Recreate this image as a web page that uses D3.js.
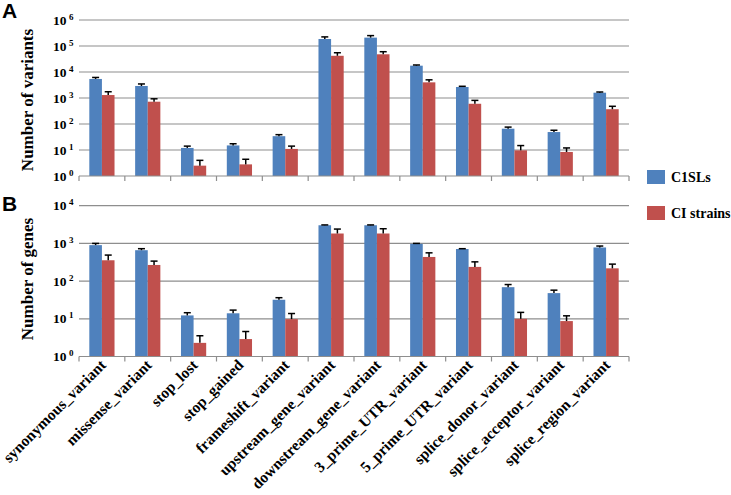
<!DOCTYPE html>
<html>
<head>
<meta charset="utf-8">
<script src="https://cdn.jsdelivr.net/npm/d3@7"></script>
<style>
  html, body { margin: 0; padding: 0; background: #fff; }
  svg { display: block; }
  text { font-family: "Liberation Serif", "Times New Roman", serif; font-weight: bold; fill: #000; }
  text.letter { font-family: "Liberation Sans", Arial, sans-serif; }
</style>
</head>
<body>
<svg id="chart" width="731" height="495"></svg>
<script>
const categories = [
  "synonymous_variant", "missense_variant", "stop_lost", "stop_gained",
  "frameshift_variant", "upstream_gene_variant", "downstream_gene_variant",
  "3_prime_UTR_variant", "5_prime_UTR_variant", "splice_donor_variant",
  "splice_acceptor_variant", "splice_region_variant"
];
const seriesNames = ["C1SLs", "CI strains"];

// Panel A: number of variants (mean, + error)
const variantsC1SL = [5400, 2900, 12, 15, 34, 186000, 210000, 17500, 2650, 66, 49, 1600];
const variantsC1SLErr = [770, 570, 2.1, 2.4, 4.9, 38000, 41000, 1100, 170, 10, 8.5, 100];
const variantsCI = [1300, 720, 2.5, 2.8, 11, 42000, 48000, 4000, 600, 9.7, 8.4, 370];
const variantsCIErr = [440, 210, 1.5, 1.6, 3.1, 13000, 12300, 1000, 210, 5.1, 3.6, 110];

// Panel B: number of genes
const genesC1SL = [900, 660, 12.3, 14, 32, 3030, 3030, 970, 710, 69, 48, 780];
const genesC1SLErr = [100, 64, 2.2, 3, 4.3, 60, 60, 30, 14, 12, 9.5, 71];
const genesCI = [357, 268, 2.3, 2.9, 9.8, 1830, 1830, 437, 238, 10, 8.7, 218];
const genesCIErr = [133, 71, 1.25, 1.7, 4, 570, 620, 125, 86, 4.8, 3.3, 64];

const variantTicks = [0, 1, 2, 3, 4, 5, 6];
const geneTicks = [0, 1, 2, 3, 4];

const colors = ["#4f81bd", "#c0504d"];
const gridColor = "#8e8e8e";

const svg = d3.select("#chart");

const x = d3.scaleBand()
  .domain(categories)
  .range([79, 629]);

const barW = x.bandwidth() * 0.275;

function drawPanel(cfg) {
  const y = d3.scaleLog()
    .domain([1, Math.pow(10, d3.max(cfg.ticks))])
    .range([cfg.bottom, cfg.top]);

  const g = svg.append("g");

  // gridlines (skip the baseline, it is the axis)
  g.selectAll("line.grid")
    .data(cfg.ticks.filter(t => t > 0))
    .enter()
    .append("line")
    .attr("class", "grid")
    .attr("x1", x.range()[0])
    .attr("x2", x.range()[1])
    .attr("y1", d => y(Math.pow(10, d)))
    .attr("y2", d => y(Math.pow(10, d)))
    .attr("stroke", gridColor)
    .attr("stroke-width", 1.2);

  // tick labels 10^n
  const lab = g.selectAll("text.ytick")
    .data(cfg.ticks)
    .enter()
    .append("text")
    .attr("class", "ytick")
    .attr("x", 53)
    .attr("y", d => y(Math.pow(10, d)) + 4.5)
    .attr("font-size", 13.5);
  lab.append("tspan").text("10");
  lab.append("tspan")
    .attr("dx", 2.5)
    .attr("dy", -5)
    .attr("font-size", 9)
    .text(d => d);

  // bars
  cfg.series.forEach((s, si) => {
    g.selectAll(`rect.s${si}`)
      .data(s.values)
      .enter()
      .append("rect")
      .attr("x", (d, i) => x(categories[i]) + x.bandwidth() / 2 - barW + si * barW)
      .attr("y", d => y(d))
      .attr("width", barW)
      .attr("height", d => cfg.bottom - y(d))
      .attr("fill", colors[si]);

    // error bars (upper only)
    const eb = g.selectAll(`g.err${si}`)
      .data(s.values.map((v, i) => ({ v, e: s.err[i], i })))
      .enter()
      .append("g")
      .attr("stroke", "#000")
      .attr("stroke-width", 1.5);
    const cx = d => x(categories[d.i]) + x.bandwidth() / 2 - barW + si * barW + barW / 2;
    eb.append("line")
      .attr("x1", cx).attr("x2", cx)
      .attr("y1", d => y(d.v))
      .attr("y2", d => y(d.v + d.e));
    eb.append("line")
      .attr("x1", d => cx(d) - 3.5).attr("x2", d => cx(d) + 3.5)
      .attr("y1", d => y(d.v + d.e))
      .attr("y2", d => y(d.v + d.e));
  });

  // x axis line with category boundary ticks
  g.append("line")
    .attr("x1", x.range()[0]).attr("x2", x.range()[1])
    .attr("y1", cfg.bottom).attr("y2", cfg.bottom)
    .attr("stroke", gridColor)
    .attr("stroke-width", 1.2);
  const edges = categories.map(c => x(c)).concat([x.range()[1]]);
  g.selectAll("line.xtick")
    .data(edges)
    .enter()
    .append("line")
    .attr("x1", d => d).attr("x2", d => d)
    .attr("y1", cfg.bottom).attr("y2", cfg.bottom + 5)
    .attr("stroke", gridColor)
    .attr("stroke-width", 1.2);

  // y title
  g.append("text")
    .attr("transform", `translate(${cfg.titleX},${cfg.titleY}) rotate(-90)`)
    .attr("text-anchor", "middle")
    .attr("font-size", 17)
    .text(cfg.title);

  // panel letter
  g.append("text")
    .attr("class", "letter")
    .attr("x", 2)
    .attr("y", cfg.letterY)
    .attr("font-size", 21)
    .text(cfg.letter);

  return y;
}

drawPanel({
  top: 20, bottom: 176, ticks: variantTicks,
  series: [
    { values: variantsC1SL, err: variantsC1SLErr },
    { values: variantsCI, err: variantsCIErr }
  ],
  title: "Number of variants", titleX: 33, titleY: 100,
  letter: "A", letterY: 18
});

drawPanel({
  top: 205.7, bottom: 356.5, ticks: geneTicks,
  series: [
    { values: genesC1SL, err: genesC1SLErr },
    { values: genesCI, err: genesCIErr }
  ],
  title: "Number of genes", titleX: 33, titleY: 279,
  letter: "B", letterY: 211
});

// x category labels, rotated 45°
svg.append("g")
  .selectAll("text")
  .data(categories)
  .enter()
  .append("text")
  .attr("transform", d => `translate(${x(d) + x.bandwidth() / 2 + 5},${366}) rotate(-45)`)
  .attr("text-anchor", "end")
  .attr("font-size", 15.5)
  .text(d => d);

// legend
const legend = svg.append("g");
const legendY = [170, 206];
seriesNames.forEach((name, i) => {
  legend.append("rect")
    .attr("x", 647).attr("y", legendY[i])
    .attr("width", 18).attr("height", 14)
    .attr("fill", colors[i]);
  legend.append("text")
    .attr("x", 671).attr("y", legendY[i] + 12)
    .attr("font-size", 14)
    .text(name);
});
</script>
</body>
</html>
